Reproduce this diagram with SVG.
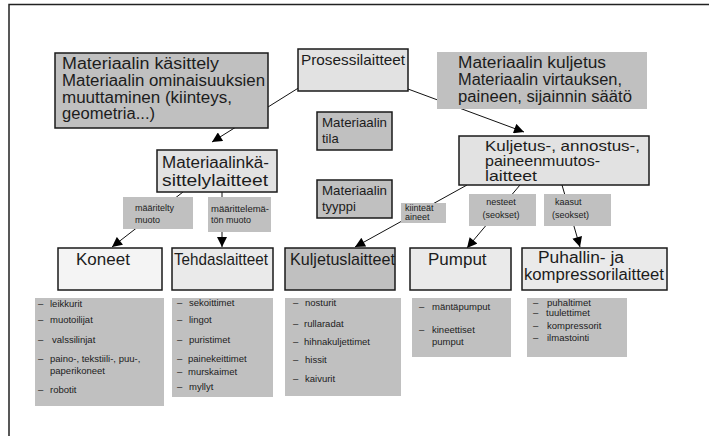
<svg xmlns="http://www.w3.org/2000/svg" width="709" height="436" viewBox="0 0 709 436">
  <style>
    text { font-family: "Liberation Sans", Arial, Helvetica, sans-serif; fill: #1c1c1c; }
    .frame { stroke: #222; stroke-width: 1.5; fill: none; }
    .node { stroke: #1a1a1a; stroke-width: 1.5; }
    .light { fill: #e2e2e2; }
    .pale { fill: #f4f4f4; }
    .mid { fill: #eaeaea; }
    .dark { fill: #c0c0c0; }
    .note { fill: #c0c0c0; stroke: none; }
    .big { font-size: 16px; }
    .head { font-size: 14.5px; }
    .med { font-size: 13px; }
    .small { font-size: 9.5px; }
    .tag { font-size: 9px; }
    .conn line { stroke: #111; stroke-width: 1; marker-end: url(#arrow); }
  </style>
  <defs>
    <marker id="arrow" viewBox="0 0 10 10" refX="10" refY="5" markerWidth="11" markerHeight="10" markerUnits="userSpaceOnUse" orient="auto">
      <path d="M0,0 L10,5 L0,10 z" fill="#000"/>
    </marker>
  </defs>

  <rect width="709" height="436" fill="#fff"/>
  <!-- page frame: top and left edges only -->
  <path class="frame" d="M9,436 V4.5 H709"/>

  <!-- connectors -->
  <g id="connectors" class="conn">
    <line x1="300" y1="87" x2="212" y2="142"/>
    <line x1="408" y1="89" x2="524" y2="132"/>
    <line x1="183" y1="192" x2="112" y2="247"/>
    <line x1="222" y1="192" x2="222" y2="247"/>
    <line x1="467" y1="185" x2="355" y2="247"/>
    <line x1="520" y1="185" x2="467" y2="248"/>
    <line x1="562" y1="185" x2="580" y2="247"/>
  </g>

  <!-- top level -->
  <g id="prosessilaitteet">
    <rect class="node light" x="298" y="49" width="110" height="42"/>
    <text x="301" y="65" style="font-size:15px" textLength="104" lengthAdjust="spacingAndGlyphs">Prosessilaitteet</text>
  </g>

  <g id="kasittely-note">
    <rect class="node dark" x="55" y="53" width="213" height="75"/>
    <text class="big" x="62" y="69" textLength="157" lengthAdjust="spacingAndGlyphs">Materiaalin käsittely</text>
    <text class="big" x="62" y="86" textLength="203" lengthAdjust="spacingAndGlyphs">Materiaalin ominaisuuksien</text>
    <text class="big" x="62" y="103" textLength="170" lengthAdjust="spacingAndGlyphs">muuttaminen (kiinteys,</text>
    <text class="big" x="62" y="119" textLength="93" lengthAdjust="spacingAndGlyphs">geometria...)</text>
  </g>

  <g id="kuljetus-note">
    <rect class="note" x="437" y="52" width="210" height="57"/>
    <text class="big" x="458" y="68" textLength="148" lengthAdjust="spacingAndGlyphs">Materiaalin kuljetus</text>
    <text class="big" x="458" y="85" textLength="164" lengthAdjust="spacingAndGlyphs">Materiaalin virtauksen,</text>
    <text class="big" x="458" y="102" textLength="174" lengthAdjust="spacingAndGlyphs">paineen, sijainnin säätö</text>
  </g>

  <g id="tila">
    <rect class="node dark" x="317" y="112" width="75" height="38"/>
    <text class="med" x="322" y="127" textLength="65" lengthAdjust="spacingAndGlyphs">Materiaalin</text>
    <text class="med" x="322" y="143">tila</text>
  </g>

  <g id="tyyppi">
    <rect class="node dark" x="317" y="180" width="75" height="38"/>
    <text class="med" x="322" y="195" textLength="65" lengthAdjust="spacingAndGlyphs">Materiaalin</text>
    <text class="med" x="322" y="211">tyyppi</text>
  </g>

  <!-- second level -->
  <g id="materiaalinkasittelylaitteet">
    <rect class="node light" x="157" y="150" width="120" height="42"/>
    <text class="big" x="162" y="168" textLength="107" lengthAdjust="spacingAndGlyphs">Materiaalinkä-</text>
    <text class="big" x="162" y="186" textLength="106" lengthAdjust="spacingAndGlyphs">sittelylaitteet</text>
  </g>

  <g id="kuljetus-annostus">
    <rect class="node light" x="459" y="136" width="190" height="49"/>
    <text class="head" x="485" y="151" textLength="155" lengthAdjust="spacingAndGlyphs">Kuljetus-, annostus-,</text>
    <text class="head" x="485" y="166" textLength="115" lengthAdjust="spacingAndGlyphs">paineenmuutos-</text>
    <text class="head" x="485" y="181" textLength="52" lengthAdjust="spacingAndGlyphs">laitteet</text>
  </g>

  <!-- connector tags -->
  <g id="tag-maaritelty">
    <rect class="note" x="123" y="197" width="70" height="32"/>
    <text class="tag" x="135" y="211">määritelty</text>
    <text class="tag" x="135" y="223">muoto</text>
  </g>
  <g id="tag-maarittelematon">
    <rect class="note" x="208" y="197" width="63" height="35"/>
    <text class="tag" x="211" y="212" textLength="58" lengthAdjust="spacingAndGlyphs">määrittelemä-</text>
    <text class="tag" x="211" y="223">tön muoto</text>
  </g>
  <g id="tag-kiinteat">
    <rect class="note" x="401" y="203" width="45" height="20"/>
    <text class="tag" x="405" y="211">kiinteät</text>
    <text class="tag" x="405" y="220">aineet</text>
  </g>
  <g id="tag-nesteet">
    <rect class="note" x="469" y="194" width="67" height="32"/>
    <text class="tag" x="501" y="205" text-anchor="middle">nesteet</text>
    <text class="tag" x="501" y="218" text-anchor="middle">(seokset)</text>
  </g>
  <g id="tag-kaasut">
    <rect class="note" x="544" y="194" width="67" height="32"/>
    <text class="tag" x="555" y="205">kaasut</text>
    <text class="tag" x="552" y="218">(seokset)</text>
  </g>

  <!-- equipment classes -->
  <g id="koneet">
    <rect class="node pale" x="58" y="248" width="104" height="42"/>
    <text x="76" y="265" style="font-size:17px">Koneet</text>
  </g>
  <g id="tehdaslaitteet">
    <rect class="node mid" x="172" y="248" width="101" height="42"/>
    <text x="174" y="265" style="font-size:17px" textLength="94" lengthAdjust="spacingAndGlyphs">Tehdaslaitteet</text>
  </g>
  <g id="kuljetuslaitteet">
    <rect class="node dark" x="285" y="248" width="110" height="42"/>
    <text x="290" y="265" style="font-size:17px" textLength="105" lengthAdjust="spacingAndGlyphs">Kuljetuslaitteet</text>
  </g>
  <g id="pumput">
    <rect class="node mid" x="410" y="248" width="101" height="42"/>
    <text x="428" y="265" style="font-size:17px">Pumput</text>
  </g>
  <g id="puhallin">
    <rect class="node mid" x="522" y="248" width="145" height="42"/>
    <text x="538" y="263" style="font-size:16px" textLength="86" lengthAdjust="spacingAndGlyphs">Puhallin- ja</text>
    <text x="524" y="280" style="font-size:16px" textLength="140" lengthAdjust="spacingAndGlyphs">kompressorilaitteet</text>
  </g>

  <!-- example lists -->
  <g id="lista-koneet">
    <rect class="note" x="35" y="298" width="129" height="108"/>
    <text class="small" x="38" y="307">–</text><text class="small" x="50" y="307">leikkurit</text>
    <text class="small" x="38" y="323">–</text><text class="small" x="50" y="323">muotoilijat</text>
    <text class="small" x="38" y="343">–</text><text class="small" x="52" y="343">valssilinjat</text>
    <text class="small" x="38" y="362">–</text><text class="small" x="50" y="362">paino-, tekstiili-, puu-,</text>
    <text class="small" x="50" y="374">paperikoneet</text>
    <text class="small" x="38" y="393">–</text><text class="small" x="50" y="393">robotit</text>
  </g>
  <g id="lista-tehdas">
    <rect class="note" x="172" y="298" width="101" height="99"/>
    <text class="small" x="177" y="306">–</text><text class="small" x="189" y="306">sekoittimet</text>
    <text class="small" x="177" y="323">–</text><text class="small" x="189" y="323">lingot</text>
    <text class="small" x="177" y="343">–</text><text class="small" x="189" y="343">puristimet</text>
    <text class="small" x="177" y="362">–</text><text class="small" x="188" y="362">painekeittimet</text>
    <text class="small" x="177" y="375">–</text><text class="small" x="188" y="375">murskaimet</text>
    <text class="small" x="177" y="390">–</text><text class="small" x="189" y="390">myllyt</text>
  </g>
  <g id="lista-kuljetus">
    <rect class="note" x="285" y="298" width="116" height="98"/>
    <text class="small" x="293" y="306">–</text><text class="small" x="305" y="306">nosturit</text>
    <text class="small" x="293" y="327">–</text><text class="small" x="304" y="327">rullaradat</text>
    <text class="small" x="293" y="345">–</text><text class="small" x="304" y="345">hihnakuljettimet</text>
    <text class="small" x="293" y="363">–</text><text class="small" x="305" y="363">hissit</text>
    <text class="small" x="293" y="382">–</text><text class="small" x="305" y="382">kaivurit</text>
  </g>
  <g id="lista-pumput">
    <rect class="note" x="412" y="298" width="99" height="59"/>
    <text class="small" x="419" y="310">–</text><text class="small" x="432" y="310">mäntäpumput</text>
    <text class="small" x="419" y="333">–</text><text class="small" x="432" y="333">kineettiset</text>
    <text class="small" x="432" y="345">pumput</text>
  </g>
  <g id="lista-puhallin">
    <rect class="note" x="527" y="298" width="100" height="59"/>
    <text class="small" x="533" y="306">–</text><text class="small" x="547" y="306">puhaltimet</text>
    <text class="small" x="533" y="316">–</text><text class="small" x="546" y="316">tuulettimet</text>
    <text class="small" x="533" y="329">–</text><text class="small" x="547" y="329">kompressorit</text>
    <text class="small" x="533" y="341">–</text><text class="small" x="547" y="341">ilmastointi</text>
  </g>
</svg>
